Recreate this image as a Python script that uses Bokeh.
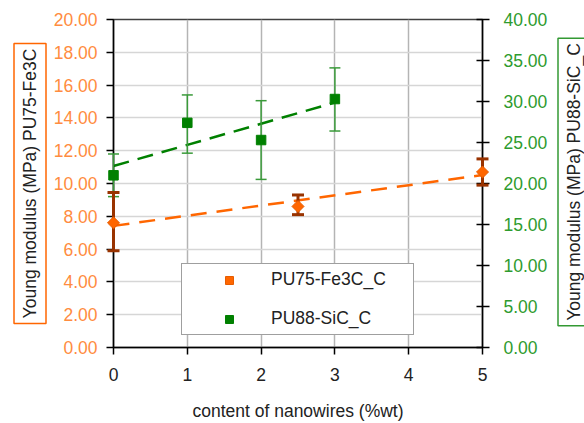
import numpy as np
from bokeh.plotting import figure
from bokeh.layouts import row
from bokeh.models import (Range1d, LinearAxis, FixedTicker, NumeralTickFormatter,
                          Label, Legend, LegendItem)
from bokeh.embed import file_html
from bokeh.resources import INLINE

# ---- data ----
fe_x = [0, 2.5, 5]
fe_y = [7.6, 8.6, 10.7]
fe_lo = [5.9, 8.1, 9.9]
fe_hi = [9.45, 9.3, 11.5]

sic_x = [0, 1, 2, 3]
sic_y = [21.0, 27.4, 25.3, 30.3]
sic_lo = [18.4, 23.7, 20.5, 26.4]
sic_hi = [23.6, 30.8, 30.1, 34.1]

x_ticks = [0, 1, 2, 3, 4, 5]
left_ticks = [0, 2, 4, 6, 8, 10, 12, 14, 16, 18, 20]
right_ticks = [0, 5, 10, 15, 20, 25, 30, 35, 40]

fe_name = "PU75-Fe3C_C"
sic_name = "PU88-SiC_C"
x_title = "content of nanowires (%wt)"
left_title = "Young modulus (MPa) PU75-Fe3C"
right_title = "Young modulus (MPa) PU88-SiC_C"

FONT = "Liberation Sans"
FS = "17.5px"
ORANGE = "#FF6600"
BROWN = "#993300"
GREEN = "#008000"
ERR_GREEN = "#3A9A3A"
TICK_ORANGE = "#FF8C40"
TICK_GREEN = "#2E9B2E"

H = 423
TOP = 19
BOTTOM = 75
LEFT_W = 50
RIGHT_W = 34
MAIN_W = 584 - LEFT_W - RIGHT_W

p = figure(width=MAIN_W, height=H, output_backend="svg", toolbar_location=None,
           x_range=Range1d(0, 5), y_range=Range1d(0, 20),
           min_border_left=62, min_border_right=68,
           min_border_top=TOP, min_border_bottom=BOTTOM)
p.extra_y_ranges = {"right": Range1d(0, 40)}
p.background_fill_color = "white"
p.border_fill_color = "white"
p.outline_line_color = "#404040"
p.outline_line_width = 1.5

# grids
p.ygrid.grid_line_color = "#D6D6D6"
p.ygrid.grid_line_width = 1.5
p.xgrid.grid_line_color = "#B4B4B4"
p.xgrid.grid_line_width = 1.5

# axes
for ax in (p.xaxis, p.yaxis):
    ax.axis_line_color = "black"
    ax.axis_line_width = 1.5
    ax.major_tick_line_color = "black"
    ax.major_tick_line_width = 1.5
    ax.minor_tick_line_color = None
    ax.major_label_text_font = FONT
    ax.major_label_text_font_size = FS

p.xaxis.ticker = FixedTicker(ticks=x_ticks)
p.xaxis.major_tick_in = 0
p.xaxis.major_tick_out = 7
p.xaxis.major_label_standoff = 13
p.xaxis.major_label_text_color = "#222222"
p.xaxis.axis_label = x_title
p.xaxis.axis_label_text_font = FONT
p.xaxis.axis_label_text_font_size = FS
p.xaxis.axis_label_text_font_style = "normal"
p.xaxis.axis_label_text_color = "#222222"
p.xaxis.axis_label_standoff = 17

p.yaxis.ticker = FixedTicker(ticks=left_ticks)
p.yaxis.formatter = NumeralTickFormatter(format="0.00")
p.yaxis.major_tick_in = 0
p.yaxis.major_tick_out = 7
p.yaxis.major_label_standoff = 9
p.yaxis.major_label_text_color = TICK_ORANGE

right = LinearAxis(y_range_name="right", ticker=FixedTicker(ticks=right_ticks),
                   formatter=NumeralTickFormatter(format="0.00"))
right.axis_line_color = "black"
right.axis_line_width = 1.5
right.major_tick_line_color = "black"
right.major_tick_line_width = 1.5
right.minor_tick_line_color = None
right.major_tick_in = 6
right.major_tick_out = 7
right.major_label_standoff = 14
right.major_label_text_font = FONT
right.major_label_text_font_size = FS
right.major_label_text_color = TICK_GREEN
p.add_layout(right, "right")

# trend lines (least squares fits of the data)
fe_fit = np.polyfit(fe_x, fe_y, 1)
sic_fit = np.polyfit(sic_x, sic_y, 1)
fe_tx = [min(fe_x), max(fe_x)]
sic_tx = [min(sic_x), max(sic_x)]
p.line(fe_tx, list(np.polyval(fe_fit, fe_tx)), line_color=ORANGE, line_width=2.5,
       line_dash="16 10")
p.line(sic_tx, list(np.polyval(sic_fit, sic_tx)), line_color=GREEN, line_width=2.5,
       line_dash="16 9", y_range_name="right")

# error bars
p.segment(x0=sic_x, y0=sic_lo, x1=sic_x, y1=sic_hi, line_color=ERR_GREEN,
          line_width=1.5, y_range_name="right", level="overlay")
p.scatter(x=sic_x + sic_x, y=sic_lo + sic_hi, marker="dash", size=11,
          line_color=ERR_GREEN, line_width=1.5, y_range_name="right", level="overlay")
p.segment(x0=fe_x, y0=fe_lo, x1=fe_x, y1=fe_hi, line_color=BROWN,
          line_width=3, level="overlay")
p.scatter(x=fe_x + fe_x, y=fe_lo + fe_hi, marker="dash", size=12,
          line_color=BROWN, line_width=3, level="overlay")

# markers
r_fe = p.scatter(fe_x, fe_y, marker="square", angle=np.pi / 4, size=8.5,
                 fill_color=ORANGE, line_color="#E65C00", level="overlay")
r_sic = p.scatter(sic_x, sic_y, marker="square", size=9.5, fill_color=GREEN,
                  line_color=GREEN, y_range_name="right", level="overlay")

legend = Legend(items=[LegendItem(label=fe_name, renderers=[r_fe]),
                       LegendItem(label=sic_name, renderers=[r_sic])],
                location=(68, 12), orientation="vertical",
                padding=5, spacing=18, glyph_width=84, glyph_height=20,
                label_height=20, label_width=137, label_standoff=0, margin=0,
                label_text_font=FONT, label_text_font_size=FS,
                label_text_color="#222222",
                border_line_color="#404040", border_line_width=1.5,
                background_fill_color="white", background_fill_alpha=1.0)
p.add_layout(legend)


def title_strip(width, text, cx, cy, color, pad_along):
    # the row aligns this strip's frame with the main frame (TOP .. H-BOTTOM),
    # so its y range is given in page pixels over that span
    s = figure(width=width, height=H, output_backend="svg", toolbar_location=None,
               x_range=Range1d(0, width), y_range=Range1d(H - BOTTOM, TOP),
               x_axis_location=None, y_axis_location=None, min_border=0,
               min_border_top=TOP, min_border_bottom=BOTTOM)
    s.outline_line_color = None
    s.grid.visible = False
    s.background_fill_color = "white"
    s.border_fill_color = "white"
    s.add_layout(Label(x=cx, y=cy, text=text, angle=np.pi / 2,
                       text_align="center", text_baseline="middle",
                       text_font=FONT, text_font_size=FS, text_color="#222222",
                       border_line_color=color, border_line_width=1.5,
                       background_fill_color="white",
                       padding=dict(left=pad_along, right=pad_along, top=6, bottom=6)))
    return s


left_strip = title_strip(LEFT_W, left_title, 29.5, 183.5, ORANGE, 5)
right_strip = title_strip(RIGHT_W, right_title, 573.5 - (584 - RIGHT_W), 182, "#339933", 5)

layout = row(left_strip, p, right_strip)

open("out.html", "w").write(file_html(layout, INLINE))
